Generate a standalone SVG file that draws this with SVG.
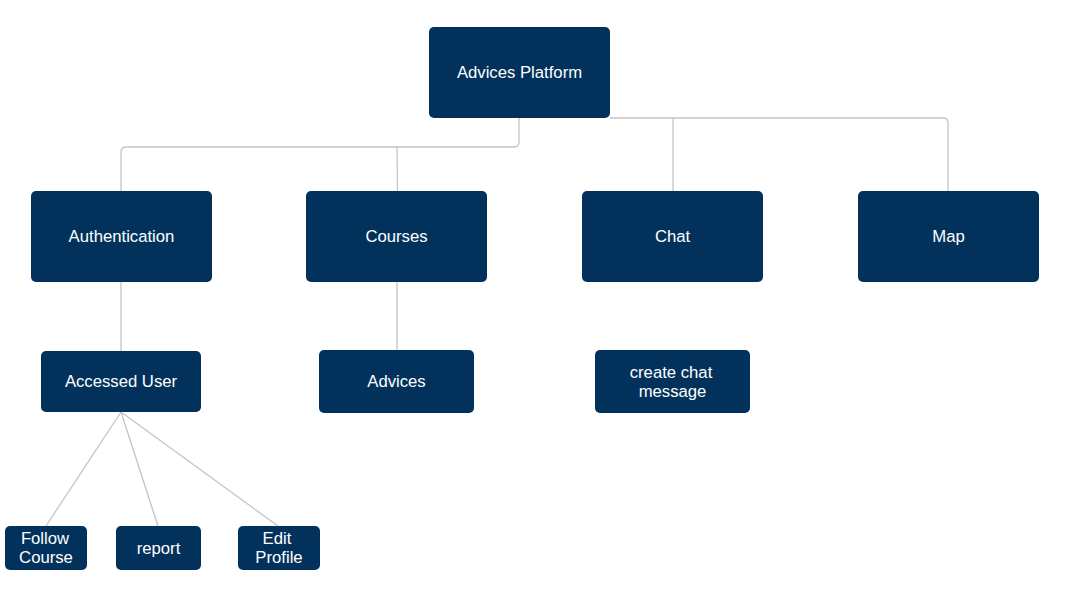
<svg xmlns="http://www.w3.org/2000/svg" width="1091" height="601" viewBox="0 0 1091 601">
<style>
.n{fill:#02325c;}
.t{fill:#ffffff;font-family:"Liberation Sans",Arial,sans-serif;font-size:16.7px;text-anchor:middle;}
.c{fill:none;stroke:#c4c4c4;stroke-width:1.3;}
</style>
<rect width="1091" height="601" fill="#ffffff"/>
<g id="connectors">
<path class="c" d="M519,118 V142 Q519,147 514,147 H126 Q121,147 121,152 V191"/>
<path class="c" d="M397,147 L397.5,191"/>
<path class="c" d="M610,118 H943 Q948,118 948,123 V191"/>
<path class="c" d="M673,118 V191"/>
<path class="c" d="M121,282 V351"/>
<path class="c" d="M397,282 V350"/>
<path class="c" d="M121,412 L46,526"/>
<path class="c" d="M121,412 L158,526"/>
<path class="c" d="M121,412 L278,526"/>
</g>
<g id="advices-platform"><rect class="n" x="429" y="27" width="181" height="91" rx="5"/><text class="t" x="519.5" y="78">Advices Platform</text></g>
<g id="authentication"><rect class="n" x="31" y="191" width="181" height="91" rx="5"/><text class="t" x="121.5" y="242">Authentication</text></g>
<g id="courses"><rect class="n" x="306" y="191" width="181" height="91" rx="5"/><text class="t" x="396.5" y="242">Courses</text></g>
<g id="chat"><rect class="n" x="582" y="191" width="181" height="91" rx="5"/><text class="t" x="672.5" y="242">Chat</text></g>
<g id="map"><rect class="n" x="858" y="191" width="181" height="91" rx="5"/><text class="t" x="948.5" y="242">Map</text></g>
<g id="accessed-user"><rect class="n" x="41" y="351" width="160" height="61" rx="5"/><text class="t" x="121" y="387">Accessed User</text></g>
<g id="advices"><rect class="n" x="319" y="350" width="155" height="63" rx="5"/><text class="t" x="396.5" y="387">Advices</text></g>
<g id="create-chat-message"><rect class="n" x="595" y="350" width="155" height="63" rx="5"/><text class="t" x="671" y="378">create chat</text><text class="t" x="672.5" y="397">message</text></g>
<g id="follow-course"><rect class="n" x="5" y="526" width="82" height="44" rx="5"/><text class="t" x="45" y="544">Follow</text><text class="t" x="46" y="563">Course</text></g>
<g id="report"><rect class="n" x="116" y="526" width="85" height="44" rx="5"/><text class="t" x="158.5" y="554">report</text></g>
<g id="edit-profile"><rect class="n" x="238" y="526" width="82" height="44" rx="5"/><text class="t" x="277" y="544">Edit</text><text class="t" x="279" y="563">Profile</text></g>
</svg>
